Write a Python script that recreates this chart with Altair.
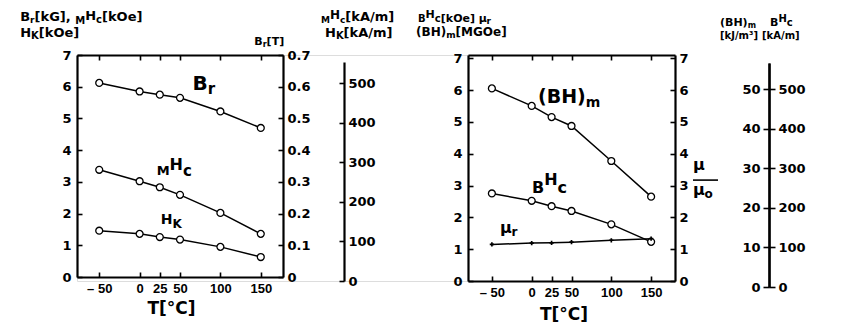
import altair as alt
import pandas as pd

# ---------------- data ----------------
T = [-50, 0, 25, 50, 100, 150]

# left panel (kG / kOe)
Br_kG = [6.12, 5.85, 5.75, 5.65, 5.22, 4.70]
MHc_kOe = [3.38, 3.02, 2.83, 2.59, 2.02, 1.36]
HK_kOe = [1.46, 1.36, 1.26, 1.18, 0.95, 0.63]

# right panel (MGOe / kOe / relative permeability)
BHmax_MGOe = [6.05, 5.50, 5.15, 4.87, 3.77, 2.65]
BHc_kOe = [2.75, 2.52, 2.35, 2.20, 1.78, 1.23]
mu_r = [1.15, 1.19, 1.20, 1.22, 1.28, 1.33]

# tick values
kOe_ticks = [0, 1, 2, 3, 4, 5, 6, 7]
BrT_ticks = [0.0, 0.1, 0.2, 0.3, 0.4, 0.5, 0.6, 0.7]
kAm_ticks = [0, 100, 200, 300, 400, 500]
kJ_ticks = [0, 10, 20, 30, 40, 50]
mu_ticks = [0, 1, 2, 3, 4, 5, 6, 7]

FONT = "DejaVu Sans"
NARROW = "Liberation Sans"
INWARD = {"expr": "-5"}
W_ALL, H_ALL = 598, 226

AX = dict(domainColor="black", domainWidth=2.2, tickColor="black", tickWidth=1.6,
          labelColor="black", labelFont=FONT, labelFontWeight="bold", labelFontSize=13,
          grid=False, titleFont=FONT, titleFontWeight="bold", titleColor="black")

# approximate DejaVu-Sans-Bold advance widths (em) for building sub/superscripts
W = {'B': .763, 'r': .493, '[': .457, ']': .457, 'k': .665, 'G': .821, ',': .380, ' ': .348,
     'M': .995, 'H': .837, 'c': .592, 'O': .850, 'e': .678, 'K': .775, 'T': .683, 'A': .774,
     '/': .365, 'm': 1.042, '(': .457, ')': .457, 'J': .372, '³': .438, 'μ': .710, 'o': .687}


def text_w(s, size):
    return sum(W.get(ch, 0.7) for ch in s) * size


# panel scales (each panel owns a slice of the common drawing area)
xs1 = alt.Scale(domain=[-77.5, 177.5], range=[0, 206], nice=False, zero=False)
ys1 = alt.Scale(domain=[0, 7], range=[222, 0], nice=False, zero=False)
xs2 = alt.Scale(domain=[-80, 180], range=[391, 598], nice=False, zero=False)
ys2 = alt.Scale(domain=[0, 7.1], range=[226, 0], nice=False, zero=False)


def rich(xv, yv, segs, xs, ys):
    layers = []
    off = 0.0
    src = pd.DataFrame({"x": [xv], "y": [yv]})
    for text, size, dy in segs:
        layers.append(
            alt.Chart(src).mark_text(text=text, align="left", baseline="alphabetic",
                                     dx=round(off, 1), dy=dy, fontSize=size,
                                     fontWeight="bold", font=FONT, color="black")
            .encode(x=alt.X("x:Q", scale=xs, axis=None),
                    y=alt.Y("y:Q", scale=ys, axis=None))
        )
        off += text_w(text, size)
    return layers


def bottom_axis(offset, title_x, title_pad):
    ax = dict(AX)
    ax["labelFont"] = NARROW
    return alt.Axis(values=T, orient="bottom", offset=offset, tickSize=INWARD, labelPadding=10,
                    labelExpr="datum.value < 0 ? '\u2013 50' : datum.label",
                    title="T[°C]", titleFontSize=17, titlePadding=title_pad, titleX=title_x, **ax)


def top_axis():
    return alt.Axis(values=T, orient="top", tickSize=INWARD, labels=False, title=None, **AX)


def ghost(vals, scale, axis):
    return alt.Chart(pd.DataFrame({"v": vals})).mark_point(opacity=0).encode(
        y=alt.Y("v:Q", scale=scale, axis=axis))


# ---------------- left panel ----------------
d1 = pd.DataFrame({"T": T * 3, "v": Br_kG + MHc_kOe + HK_kOe,
                   "s": ["Br"] * 6 + ["MHc"] * 6 + ["HK"] * 6})

line1 = alt.Chart(d1).mark_line(color="black", strokeWidth=1.5).encode(
    x=alt.X("T:Q", scale=xs1, axis=bottom_axis(-4, 94, 5)),
    y=alt.Y("v:Q", scale=ys1, axis=alt.Axis(values=kOe_ticks, orient="left", tickSize=INWARD,
                                            labelPadding=11, title=None, **AX)),
    detail="s:N")
pts1 = alt.Chart(d1).mark_point(shape="circle", filled=True, fill="white", stroke="black",
                                strokeWidth=1.3, size=48, opacity=1).encode(
    x=alt.X("T:Q", scale=xs1, axis=top_axis()),
    y=alt.Y("v:Q", scale=ys1, axis=None))

brT = ghost(BrT_ticks, alt.Scale(domain=[0, 0.7], range=[222, 0], nice=False, zero=False),
            alt.Axis(values=BrT_ticks, orient="right", offset=-(W_ALL - 206), tickSize=INWARD,
                     labelPadding=9,
                     labelExpr="datum.value == 0 ? '0' : format(datum.value, '.1f')",
                     title=None, **AX))
kAm1 = ghost(kAm_ticks, alt.Scale(domain=[0, 554], range=[226, 7], nice=False, zero=False),
             alt.Axis(values=kAm_ticks, orient="right", offset=-(W_ALL - 267), tickSize=INWARD,
                      labelPadding=9, title=None, **AX))

txt1 = []
txt1 += rich(65.5, 5.9, [("B", 20, 0), ("r", 15, 4)], xs1, ys1)
txt1 += rich(21.1, 3.22, [("M", 13, 0), ("H", 16, -5), ("c", 15, 1)], xs1, ys1)
txt1 += rich(26.1, 1.67, [("H", 14, 0), ("K", 12, 4)], xs1, ys1)
# header above the left scale
txt1 += rich(-147.8, 8.07, [("B", 13, 0), ("r", 9, 2), ("[kG], ", 13, 0),
                            ("M", 10, 3), ("H", 13, -1), ("c", 10, 2), ("[kOe]", 13, 0)], xs1, ys1)
txt1 += rich(-147.8, 7.57, [("H", 13, 0), ("K", 10, 2), ("[kOe]", 13, 0)], xs1, ys1)
# header above the Br[T] scale
txt1 += rich(142.0, 7.32, [("B", 11, 0), ("r", 8, 2), ("[T]", 11, 0)], xs1, ys1)
# header above the kA/m scale
txt1 += rich(224.6, 8.07, [("M", 9, 2), ("H", 12, -2), ("c", 9, 2), ("[kA/m]", 13, 0)], xs1, ys1)
txt1 += rich(229.5, 7.57, [("H", 13, 0), ("K", 10, 2), ("[kA/m]", 13, 0)], xs1, ys1)

# ---------------- right panel ----------------
d2 = pd.DataFrame({"T": T * 3, "v": BHmax_MGOe + BHc_kOe + mu_r,
                   "s": ["BH"] * 6 + ["BHc"] * 6 + ["mu"] * 6})
d2c = d2[d2["s"] != "mu"]
d2m = d2[d2["s"] == "mu"]

line2 = alt.Chart(d2).mark_line(color="black", strokeWidth=1.5).encode(
    x=alt.X("T:Q", scale=xs2, axis=bottom_axis(0, 486.5, 7)),
    y=alt.Y("v:Q", scale=ys2, axis=alt.Axis(values=kOe_ticks, orient="left", offset=-391,
                                            tickSize=INWARD, labelPadding=11, title=None, **AX)),
    detail="s:N")
pts2 = alt.Chart(d2c).mark_point(shape="circle", filled=True, fill="white", stroke="black",
                                 strokeWidth=1.3, size=48, opacity=1).encode(
    x=alt.X("T:Q", scale=xs2, axis=top_axis()),
    y=alt.Y("v:Q", scale=ys2, axis=None))
crs2 = alt.Chart(d2m).mark_point(shape="cross", filled=True, color="black", size=18,
                                 opacity=1).encode(
    x=alt.X("T:Q", scale=xs2, axis=None),
    y=alt.Y("v:Q", scale=ys2, axis=None))

mu_axis = ghost(mu_ticks, alt.Scale(domain=[0, 7.1], range=[226, 0], nice=False, zero=False),
                alt.Axis(values=mu_ticks, orient="right", tickSize=INWARD, labelPadding=9,
                         title=None, **AX))
kJ = ghost(kJ_ticks, alt.Scale(domain=[0, 56.7], range=[232, 8], nice=False, zero=False),
           alt.Axis(values=kJ_ticks, orient="left", offset=-692, tickSize=6, labelPadding=3,
                    title=None, **AX))
kAm2 = ghost(kAm_ticks, alt.Scale(domain=[0, 567], range=[232, 8], nice=False, zero=False),
             alt.Axis(values=kAm_ticks, orient="right", offset=94, tickSize=6, labelPadding=3,
                      title=None, **AX))

frac = alt.Chart(pd.DataFrame({"x": [202.6], "x2": [234.0], "y": [3.17]})).mark_rule(
    color="black", strokeWidth=1.6).encode(
    x=alt.X("x:Q", scale=xs2, axis=None), x2="x2:Q",
    y=alt.Y("y:Q", scale=ys2, axis=None))

txt2 = []
txt2 += rich(7.9, 5.6, [("(BH)", 19, 0), ("m", 14, 4)], xs2, ys2)
txt2 += rich(0.4, 2.78, [("B", 16, 0), ("H", 16, -8), ("c", 16, 0)], xs2, ys2)
txt2 += rich(-39.8, 1.51, [("μ", 16, 0), ("r", 12, 3)], xs2, ys2)
txt2 += rich(202.6, 3.49, [("μ", 16, 0)], xs2, ys2)
txt2 += rich(202.6, 2.70, [("μ", 16, 0), ("o", 12, 3)], xs2, ys2)
# header above the left scale
txt2 += rich(-142.8, 8.14, [("B", 10, 0), ("H", 11, -4), ("c", 10, 0), ("[kOe] ", 11, 0),
                            ("μ", 11, 0), ("r", 9, 2)], xs2, ys2)
txt2 += rich(-145.3, 7.70, [("(BH)", 12, 0), ("m", 9, 2), ("[MGOe]", 12, 0)], xs2, ys2)
# header above the far-right scale
txt2 += rich(236.5, 8.01, [("(BH)", 11, 0), ("m", 8, 2)], xs2, ys2)
txt2 += rich(236.5, 7.60, [("[kJ/m³]", 10, 0)], xs2, ys2)
txt2 += rich(299.3, 8.01, [("B", 11, 0), ("H", 10, -4), ("c", 10, 0)], xs2, ys2)
txt2 += rich(289.3, 7.60, [("[kA/m]", 10, 0)], xs2, ys2)

chart = alt.layer(
    line1, pts1, brT, kAm1, *txt1,
    line2, pts2, crs2, mu_axis, kJ, kAm2, frac, *txt2
).resolve_scale(x="independent", y="independent").properties(
    width=W_ALL, height=H_ALL,
    padding={"left": 12, "top": 0, "right": 0, "bottom": 0}
).configure_view(stroke=None).configure(background="white")

chart.save("out.html", embed_options={"renderer": "svg", "actions": False})
